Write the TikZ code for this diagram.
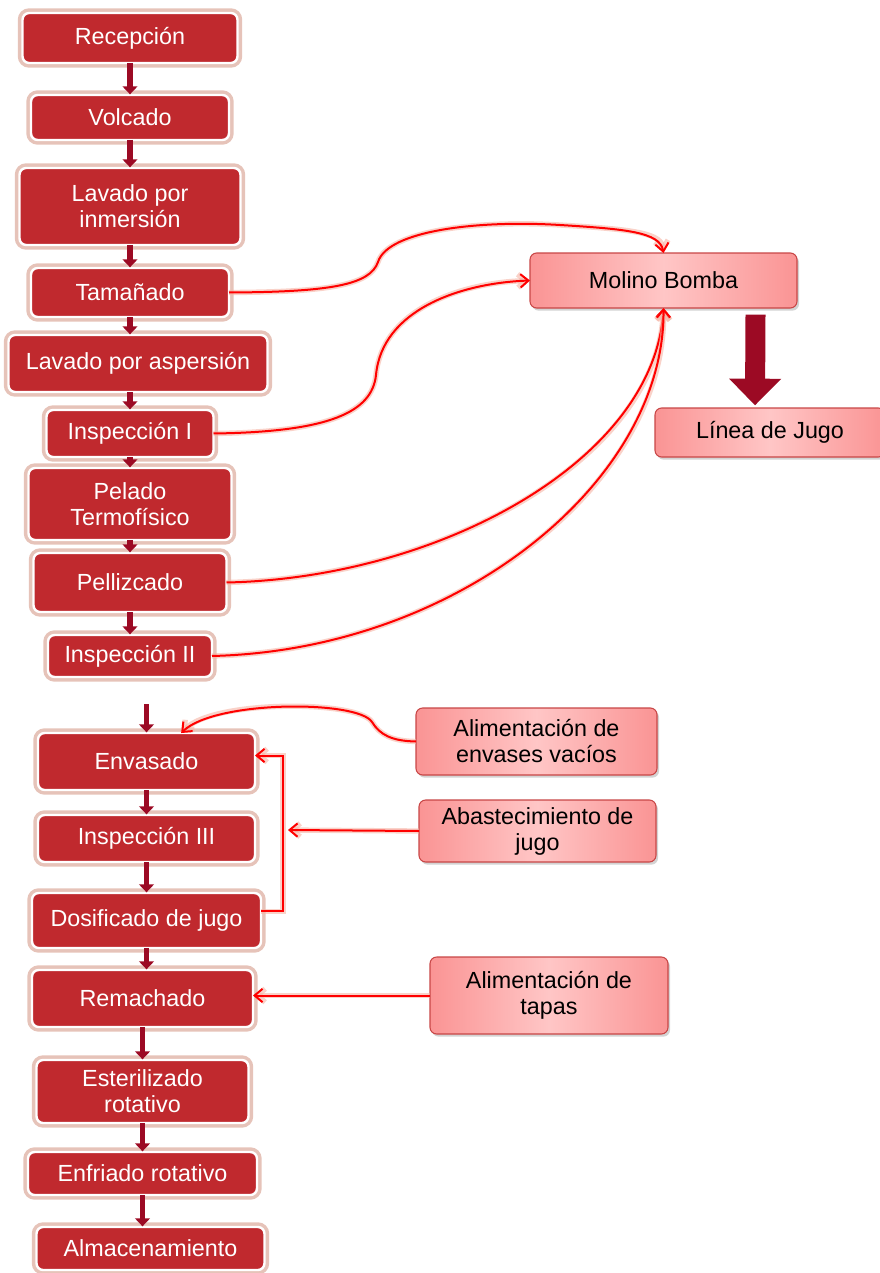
\documentclass[tikz,border=0pt]{standalone}
\usepackage{fontspec}
\setmainfont{Liberation Sans}
\usepackage{xcolor}
\usepackage{tikz}
\usetikzlibrary{positioning,arrows.meta,shadows}

\definecolor{boxred}{RGB}{192,41,46}
\definecolor{glowbrown}{RGB}{205,135,115}
\definecolor{flowred}{RGB}{156,10,36}
\definecolor{sidepink}{RGB}{250,148,148}
\definecolor{sidelight}{RGB}{255,198,198}
\definecolor{sideedge}{RGB}{200,70,70}
\definecolor{feedred}{RGB}{255,0,0}
\definecolor{feedglow}{RGB}{245,180,165}

\begin{document}
\begin{tikzpicture}[
    x=0.75pt, y=-0.75pt,
    process/.style={rectangle, rounded corners=5pt, draw=white, line width=1.8pt, fill=boxred, text=white, align=center, outer sep=0pt, inner sep=2pt, font=\fontsize{17.5}{19.5}\selectfont, preaction={draw=glowbrown, line width=7pt, opacity=0.5}},
    supply/.style={rectangle, rounded corners=5pt, draw=sideedge, line width=0.8pt, left color=sidepink, right color=sidepink, middle color=sidelight, text=black, align=center, outer sep=0pt, inner sep=2pt, font=\fontsize{17.5}{19.5}\selectfont, drop shadow={shadow xshift=1.5pt, shadow yshift=-2pt, opacity=0.35}},
    flow/.style={-{Triangle[length=6pt,width=11pt]}, line width=4pt, flowred, shorten >=0.5pt},
    feed/.style={-{Straight Barb[length=6pt,width=10pt]}, line width=1.5pt, feedred, preaction={draw=feedglow, line width=4pt, opacity=0.6}}
]
\useasboundingbox (0,0) rectangle (880,1273);

% Upper line - reception to inspection II
\node[process, minimum width=161.25pt, minimum height=37.5pt] (recep) at (130,38) {Recepción};
\node[process, minimum width=148.5pt, minimum height=33.75pt, below=24pt of recep] (volc) {Volcado};
\node[process, minimum width=165.75pt, minimum height=57.75pt, below=21pt of volc] (inmer) {Lavado por\\inmersión};
\node[process, minimum width=148.5pt, minimum height=36.75pt, below=17.25pt of inmer] (taman) {Tamañado};
\node[process, minimum width=194.25pt, minimum height=42.75pt, below=13.5pt of taman, xshift=6pt] (asper) {Lavado por aspersión};
\node[process, minimum width=125.25pt, minimum height=35.25pt, below=13.5pt of asper, xshift=-6pt] (insp1) {Inspección I};
\node[process, minimum width=152.25pt, minimum height=54pt, below=8.25pt of insp1] (pelado) {Pelado\\Termofísico};
\node[process, minimum width=144.75pt, minimum height=44.25pt, below=9.75pt of pelado] (pelliz) {Pellizcado};
\node[process, minimum width=123pt, minimum height=31.5pt, below=17.25pt of pelliz] (insp2) {Inspección II};

% Lower line - filling to storage
\node[process, minimum width=162.75pt, minimum height=42.75pt] (envasado) at (146.5,761.5) {Envasado};
\node[process, minimum width=162.75pt, minimum height=35.25pt, below=18.75pt of envasado] (insp3) {Inspección III};
\node[process, minimum width=171.75pt, minimum height=41.25pt, below=23.25pt of insp3] (dosif) {Dosificado de jugo};
\node[process, minimum width=165.75pt, minimum height=42.75pt, below=16.5pt of dosif, xshift=-3pt] (remach) {Remachado};
\node[process, minimum width=159pt, minimum height=47.25pt, below=24.75pt of remach] (ester) {Esterilizado\\rotativo};
\node[process, minimum width=171.75pt, minimum height=32.25pt, below=21.75pt of ester] (enfri) {Enfriado rotativo};
\node[process, minimum width=171pt, minimum height=32.25pt, below=24pt of enfri, xshift=6pt] (almac) {Almacenamiento};

% Side boxes
\node[supply, minimum width=200.25pt, minimum height=41.25pt] (molino) at (663.5,280.5) {Molino Bomba};
\node[supply, minimum width=172.5pt, minimum height=36.75pt] (linea) at (770,432.5) {Línea de Jugo};
\node[supply, minimum width=180.75pt, minimum height=50.25pt] (envases) at (536.5,741.5) {Alimentación de\\envases vacíos};
\node[supply, minimum width=177.75pt, minimum height=46.5pt] (abast) at (537.5,831) {Abastecimiento de\\jugo};
\node[supply, minimum width=178.5pt, minimum height=57.75pt] (tapas) at (549,995.5) {Alimentación de\\tapas};

\coordinate (stub) at (146.5,704);
\coordinate (merge) at (288,830);

% Process flow
\draw[flow] (recep.south) -- (recep.south |- volc.north);
\draw[flow] (volc.south) -- (volc.south |- inmer.north);
\draw[flow] (inmer.south) -- (inmer.south |- taman.north);
\draw[flow] (taman.south) -- (taman.south |- asper.north);
\draw[flow] (insp1.north |- asper.south) -- (insp1.north);
\draw[flow] (insp1.south) -- (insp1.south |- pelado.north);
\draw[flow] (pelado.south) -- (pelado.south |- pelliz.north);
\draw[flow] (pelliz.south) -- (pelliz.south |- insp2.north);
\draw[flow] (stub) -- (envasado.north);
\draw[flow] (envasado.south) -- (envasado.south |- insp3.north);
\draw[flow] (insp3.south) -- (insp3.south |- dosif.north);
\draw[flow] (dosif.south) -- (dosif.south |- remach.north);
\draw[flow] (remach.south) -- (remach.south |- ester.north);
\draw[flow] (ester.south) -- (ester.south |- enfri.north);
\draw[flow] (enfri.south) -- (enfri.south |- almac.north);
\draw[-{Triangle[length=20pt,width=38pt]}, line width=15pt, flowred] ([xshift=69pt, yshift=-5pt]molino.south) -- ([xshift=-11.25pt, yshift=2pt]linea.north);

% Feeds to the mill
\draw[feed] (taman.east) .. controls (330,292) and (370,285) .. (378,262) .. controls (388,230) and (480,220) .. (560,225) .. controls (625,229) and (660,232) .. (molino.north);
\draw[feed] (insp1.east) .. controls (330,432) and (372,412) .. (376,375) .. controls (382,310) and (460,283) .. (molino.west);
\draw[feed] (pelliz.east) .. controls (440,578) and (655,460) .. (molino.south);
\draw[feed] (insp2.east) .. controls (460,650) and (665,480) .. (molino.south);

% Supplies to the lower line
\draw[feed] (envases.west) .. controls (392,741) and (380,735) .. (372,722) .. controls (358,700) and (215,700) .. ([xshift=26pt]envasado.north);
\draw[feed] ([yshift=7pt]dosif.east) -- ++(22,0) |- ([yshift=4.5pt]envasado.east);
\draw[feed] (abast.west) -- (merge);
\draw[feed] (tapas.west) -- (tapas.west -| remach.east);

\end{tikzpicture}
\end{document}
